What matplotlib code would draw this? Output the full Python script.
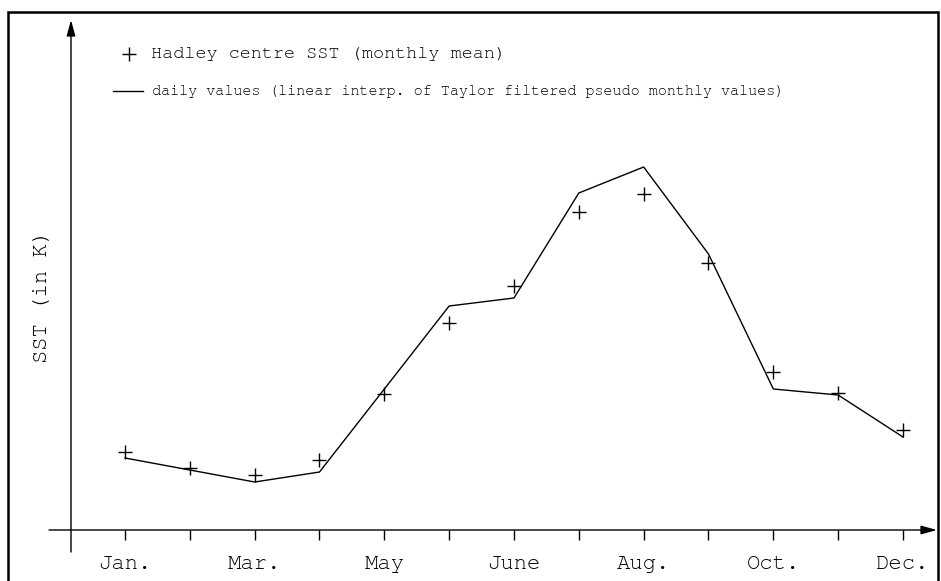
import matplotlib
matplotlib.use("Agg")
import matplotlib.pyplot as plt
from matplotlib.lines import Line2D
from matplotlib.patches import Rectangle, FancyArrowPatch

# Monthly positions (13 nodes, labelled every other one)
month_index = list(range(13))
tick_labels = ["Jan.", "", "Mar.", "", "May", "", "June", "", "Aug.", "", "Oct.", "", "Dec."]

# Hadley centre SST, monthly means (K)
hadley_sst = [295.78, 295.62, 295.55, 295.70, 296.36, 297.07, 297.44,
              298.18, 298.36, 297.67, 296.58, 296.37, 296.00]

# Daily values: linear interpolation of Taylor-filtered pseudo monthly values (K)
pseudo_monthly = [295.72, 295.60, 295.48, 295.58, 296.41, 297.24, 297.32,
                  298.37, 298.63, 297.76, 296.41, 296.35, 295.93]

plt.rcParams["font.family"] = ["Nimbus Mono PS", "FreeMono", "Courier New", "Courier",
                               "Liberation Mono", "DejaVu Sans Mono"]

W, H = 941, 581
fig = plt.figure(figsize=(W / 100, H / 100), dpi=100)


def fx(px):
    return px / W


def fy(py):
    return 1 - py / H


# axes box: x from the y-axis to the arrow tip, y from the x-axis to the arrow tip
left, right, bottom, top = 71, 935, 530, 22
ax = fig.add_axes([fx(left), fy(bottom), fx(right - left), (bottom - top) / H])
ax.set_xlim(-0.833, 12.494)
ax.set_ylim(295.0, 300.08)
for s in ax.spines.values():
    s.set_visible(False)

ax.plot(month_index, pseudo_monthly, color="black", lw=1.0)
ax.plot(month_index, hadley_sst, linestyle="none", marker="+", color="black",
        markersize=10, markeredgewidth=1.0)

ax.set_xticks(month_index)
ax.set_xticklabels(tick_labels, fontsize=16)
ax.set_yticks([])
ax.tick_params(axis="x", direction="out", length=7.5, width=1.0, pad=10.5)
ax.set_ylabel("SST (in K)", fontsize=16, va="center")
ax.yaxis.set_label_coords(-0.034, 0.46)

# axis lines with arrow heads
arrow = dict(arrowstyle="-|>,head_length=0.8,head_width=0.22", color="black",
             lw=1.0, shrinkA=0, shrinkB=0, mutation_scale=12)
fig.add_artist(FancyArrowPatch((fx(49), fy(bottom)), (fx(937), fy(bottom)),
                               transform=fig.transFigure, **arrow))
fig.add_artist(FancyArrowPatch((fx(left), fy(552)), (fx(left), fy(20)),
                               transform=fig.transFigure, **arrow))

# key
fig.add_artist(Line2D([fx(129)], [fy(54)], marker="+", color="black",
                      markersize=10, markeredgewidth=1.0, linestyle="none"))
fig.text(fx(151), fy(54), "Hadley centre SST (monthly mean)", fontsize=13.3,
         va="center", ha="left")
fig.add_artist(Line2D([fx(113), fx(143)], [fy(91), fy(91)], color="black", lw=1.0))
fig.text(fx(152), fy(92),
         "daily values (linear interp. of Taylor filtered pseudo monthly values)",
         fontsize=10.8, va="center", ha="left")

# frame around the figure
fig.add_artist(Rectangle((fx(8), -0.05), fx(930), fy(12) + 0.05, fill=False,
                         edgecolor="black", lw=1.8, transform=fig.transFigure))

fig.savefig("out.png", dpi=100)
